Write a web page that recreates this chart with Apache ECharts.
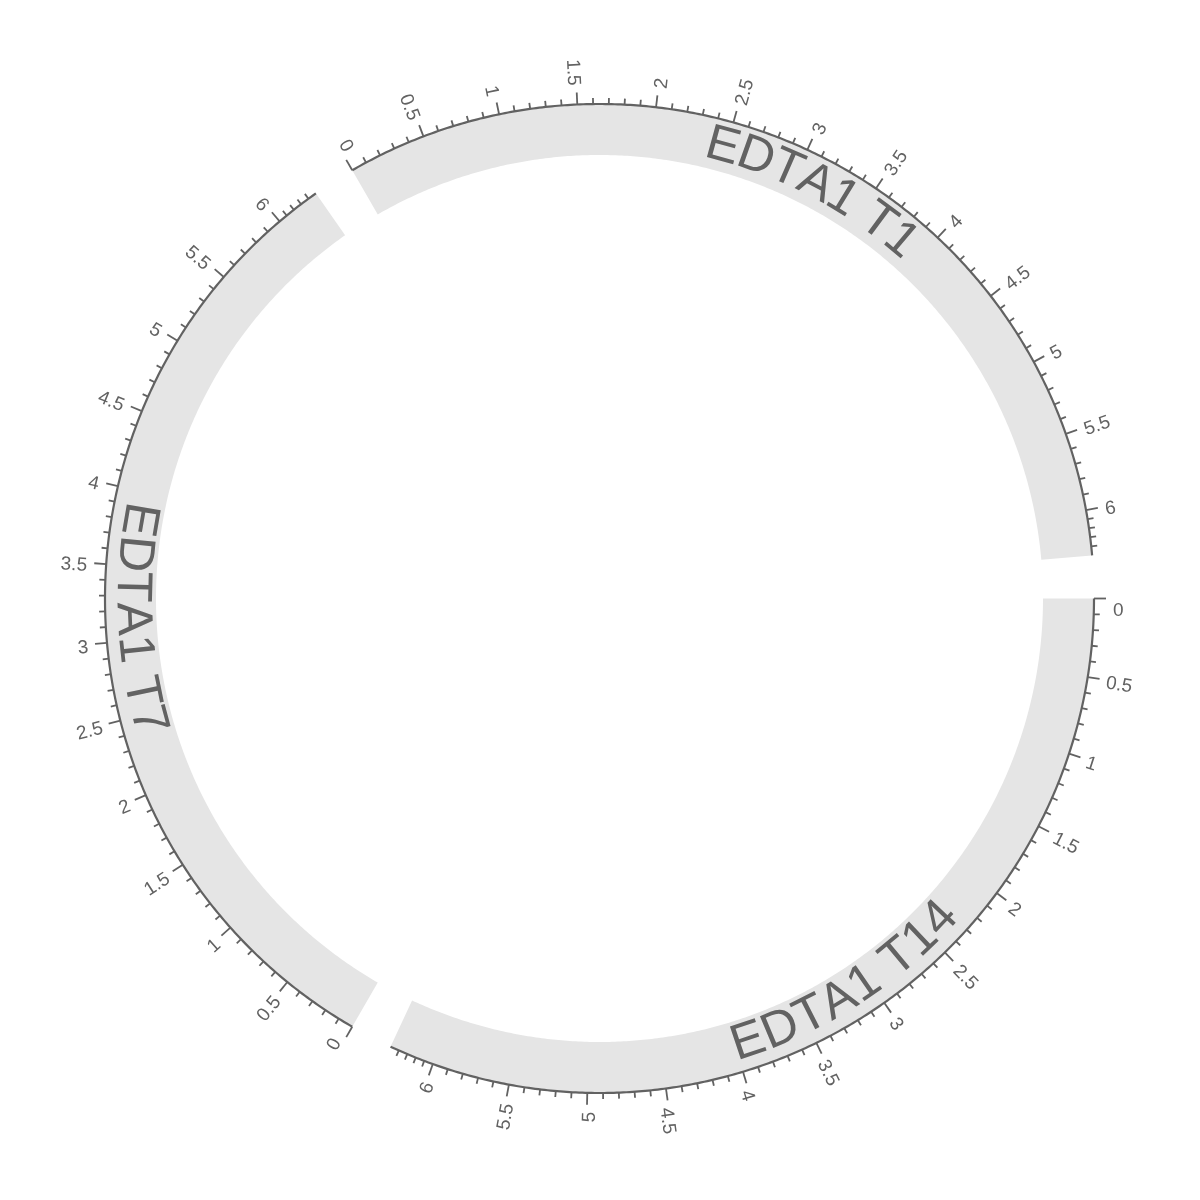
<!DOCTYPE html>
<html>
<head>
<meta charset="utf-8">
<script src="https://cdn.jsdelivr.net/npm/echarts@6/dist/echarts.min.js"></script>
<style>
html,body{margin:0;padding:0;background:#ffffff;}
#chart{width:1200px;height:1200px;}
</style>
</head>
<body>
<div id="chart"></div>
<script>
// ---------------- data ----------------
const sectorNames = ['EDTA1 T14', 'EDTA1 T7', 'EDTA1 T1'];
const sectorLengths = [6.29, 6.29, 6.29];
const majorTickLabels = ['0', '0.5', '1', '1.5', '2', '2.5', '3', '3.5', '4', '4.5', '5', '5.5', '6'];
const minorTicksPerInterval = 4;

// ---------------- layout / style ----------------
const GAP_DEG = 5;
const CENTER = [599.5, 598.5];
const R_AXIS = 494.5;
const R_BAND_OUT = 494;
const R_BAND_IN = 443.5;
const R_NAME = 468;
const MAJOR_LEN = 12;
const MINOR_LEN = 6;
const LABEL_GAP = 7;
const FONT = '"Liberation Sans", Arial, Helvetica, sans-serif';
const NAME_SIZE = 50;
const TICK_SIZE = 19;
const TICK_LABEL_DROP = 3;
const BAND_COLOR = '#e5e5e5';
const AXIS_COLOR = '#626262';
const TEXT_COLOR = '#626262';

const nSec = sectorLengths.length;
const sumL = sectorLengths.reduce((a, b) => a + b, 0);
const degPerUnit = (360 - nSec * GAP_DEG) / sumL;
const gapUnits = GAP_DEG / degPerUnit;
const offsets = [];
let acc = 0;
sectorLengths.forEach(L => { offsets.push(acc); acc += L + gapUnits; });
const totalUnits = acc;

const measureCtx = document.createElement('canvas').getContext('2d');
measureCtx.font = NAME_SIZE + 'px ' + FONT;

function renderItem(params, api) {
  const i = params.dataIndex;
  const L = sectorLengths[i];
  const off = offsets[i];
  const cs = params.coordSys;
  const cx = cs.cx, cy = cs.cy;
  const P = (r, u) => api.coord([r, off + u]);
  const ang = p => Math.atan2(p[1] - cy, p[0] - cx);
  const unitsToPx = (du, r) => du * degPerUnit * Math.PI / 180 * r;
  const children = [];

  // band
  const steps = Math.ceil(L / 0.02);
  const outer = [], inner = [];
  for (let k = 0; k <= steps; k++) {
    const u = L * k / steps;
    outer.push(P(R_BAND_OUT, u));
    inner.push(P(R_BAND_IN, u));
  }
  children.push({ type: 'polygon', shape: { points: outer.concat(inner.reverse()) },
    style: { fill: BAND_COLOR } });

  // axis line
  const axisPts = [];
  for (let k = 0; k <= steps; k++) axisPts.push(P(R_AXIS, L * k / steps));
  children.push({ type: 'polyline', shape: { points: axisPts },
    style: { stroke: AXIS_COLOR, lineWidth: 2.2, fill: null } });

  // ticks
  const majors = majorTickLabels.map(Number).filter(v => v <= L + 1e-9);
  const bounds = majors.slice();
  if (L > majors[majors.length - 1] + 1e-9) bounds.push(L);
  const minors = [];
  for (let m = 0; m < bounds.length - 1; m++) {
    const a = bounds[m], b = bounds[m + 1];
    for (let j = 1; j <= minorTicksPerInterval; j++) {
      minors.push(a + (b - a) * j / (minorTicksPerInterval + 1));
    }
  }
  minors.forEach(u => {
    const p1 = P(R_AXIS, u), p2 = P(R_AXIS + MINOR_LEN, u);
    children.push({ type: 'line', shape: { x1: p1[0], y1: p1[1], x2: p2[0], y2: p2[1] },
      style: { stroke: AXIS_COLOR, lineWidth: 1.8 } });
  });
  const rLab = R_AXIS + MAJOR_LEN + LABEL_GAP;
  const halfH = TICK_SIZE / 2;
  majors.forEach((u, idx) => {
    const p1 = P(R_AXIS, u), p2 = P(R_AXIS + MAJOR_LEN, u);
    children.push({ type: 'line', shape: { x1: p1[0], y1: p1[1], x2: p2[0], y2: p2[1] },
      style: { stroke: AXIS_COLOR, lineWidth: 1.8 } });
    const pl = P(rLab, u);
    const th = ang(pl);
    const right = Math.cos(th) >= -1e-6;
    // keep labels inside the sector's angular range
    let shiftU = 0; // px toward increasing u
    const dStart = unitsToPx(u, rLab), dEnd = unitsToPx(L - u, rLab);
    if (dStart < halfH) shiftU = halfH - dStart;
    else if (dEnd < halfH) shiftU = -(halfH - dEnd);
    const localY = TICK_LABEL_DROP + (right ? shiftU : -shiftU);
    children.push({ type: 'text', x: pl[0], y: pl[1],
      rotation: right ? -th : Math.PI - th,
      style: { text: majorTickLabels[idx], x: 0, y: localY, fontSize: TICK_SIZE, fontFamily: FONT,
        fill: TEXT_COLOR, align: right ? 'left' : 'right', verticalAlign: 'middle' } });
  });

  // sector name along arc
  const name = sectorNames[i];
  const chars = name.split('');
  const widths = chars.map(c => measureCtx.measureText(c).width);
  const W = widths.reduce((a, b) => a + b, 0);
  const mid = L / 2;
  const thMid = ang(P(R_NAME, mid));
  const top = Math.sin(thMid) < 0;
  const dir = top ? 1 : -1;
  const pxToUnits = px => (px / R_NAME) * (180 / Math.PI) / degPerUnit;
  let cum = 0;
  chars.forEach((c, k) => {
    const s = cum + widths[k] / 2 - W / 2;
    cum += widths[k];
    const u = mid + dir * pxToUnits(s);
    const p = P(R_NAME, u);
    const th = ang(p);
    const rot = top ? -(th + Math.PI / 2) : -(th - Math.PI / 2);
    children.push({ type: 'text', x: p[0], y: p[1], rotation: rot,
      style: { text: c, fontSize: NAME_SIZE, fontFamily: FONT, fill: TEXT_COLOR,
        align: 'center', verticalAlign: 'middle' } });
  });

  return { type: 'group', children };
}

const chart = echarts.init(document.getElementById('chart'), null, { renderer: 'canvas' });
chart.setOption({
  animation: false,
  backgroundColor: '#ffffff',
  polar: { center: CENTER, radius: R_AXIS },
  radiusAxis: { type: 'value', min: 0, max: R_AXIS, show: false },
  angleAxis: { type: 'value', min: 0, max: totalUnits, startAngle: 0, clockwise: true, show: false },
  series: [{
    type: 'custom',
    coordinateSystem: 'polar',
    silent: true,
    clip: false,
    data: sectorLengths.map((L, i) => [0, offsets[i]]),
    renderItem: renderItem
  }]
});
</script>
</body>
</html>
